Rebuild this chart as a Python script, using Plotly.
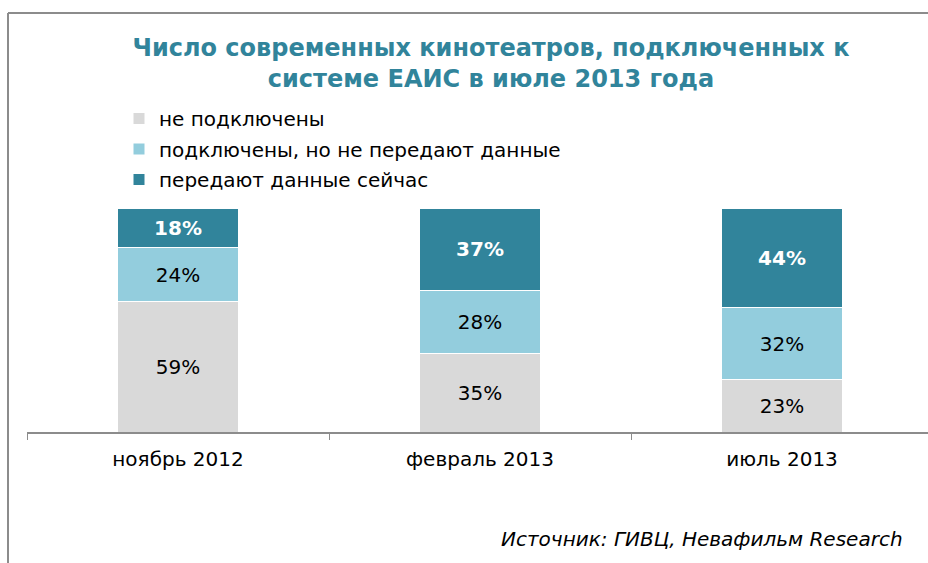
import plotly.graph_objects as go

categories = ["ноябрь 2012", "февраль 2013", "июль 2013"]
not_connected = [59, 35, 23]
connected_no_data = [24, 28, 32]
transmitting = [18, 37, 44]
series_names = ["не подключены", "подключены, но не передают данные", "передают данные сейчас"]
colors = ["#D9D9D9", "#93CDDD", "#31849B"]
title_text = "Число современных кинотеатров, подключенных к<br>системе ЕАИС в июле 2013 года"
source_text = "Источник: ГИВЦ, Невафильм Research"

W, H = 928, 563
L, R, T, B = 27, 928, 208, 432
pw, ph = R - L, B - T

def px_x(px):
    return (px - L) / pw

def px_y(py):
    return (B - py) / ph

fig = go.Figure()
series = [not_connected, connected_no_data, transmitting]
for i, (name, vals, col) in enumerate(zip(series_names, series, colors)):
    top = i == 2
    fig.add_trace(go.Bar(
        x=categories, y=vals, name=name,
        marker=dict(color=col, line=dict(color="white", width=1)),
        text=[f"{v}%" for v in vals],
        texttemplate="<b>%{text}</b>" if top else "%{text}",
        textposition="inside", insidetextanchor="middle", textangle=0,
        constraintext="none",
        textfont=dict(family="DejaVu Sans", size=20, color="white" if top else "black"),
        legendgroup=name, hoverinfo="skip",
    ))

fig.update_layout(
    width=W, height=H,
    margin=dict(l=L, r=W - R, t=T, b=H - B, pad=0),
    barmode="stack", barnorm="percent", bargap=0.6,
    paper_bgcolor="white", plot_bgcolor="white",
    font=dict(family="DejaVu Sans", color="black"),
    title=dict(text=title_text, x=491 / W, xref="container", xanchor="center",
               y=1 - 56 / H, yref="container", yanchor="middle",
               font=dict(family="DejaVu Sans", size=24, color="#31849B", weight="bold")),
    legend=dict(x=px_x(119), y=px_y(99), xanchor="left", yanchor="top",
                traceorder="grouped", tracegroupgap=1.5,
                font=dict(family="DejaVu Sans", size=20, color="black"),
                bgcolor="rgba(0,0,0,0)"),
    showlegend=True,
)
fig.update_xaxes(range=[-0.5, -0.5 + pw / 302.0], showline=True, linecolor="#8C8C8C", linewidth=1.5,
                 ticks="outside", tickson="boundaries", ticklen=6, tickcolor="#8C8C8C", tickwidth=1,
                 tickfont=dict(family="DejaVu Sans", size=20, color="black"),
                 ticklabelstandoff=8, showgrid=False, zeroline=False)
fig.update_yaxes(range=[0, 100], visible=False, showgrid=False)

fig.add_annotation(text=source_text, xref="paper", yref="paper", x=px_x(905), y=px_y(539),
                   xanchor="right", yanchor="middle", showarrow=False,
                   font=dict(family="DejaVu Sans", size=20, color="black", style="italic"))

# outer frame (top and left borders)
fig.add_shape(type="line", xref="paper", yref="paper", x0=px_x(8), x1=px_x(940), y0=px_y(13), y1=px_y(13),
              line=dict(color="#8C8C8C", width=2))
fig.add_shape(type="line", xref="paper", yref="paper", x0=px_x(8), x1=px_x(8), y0=px_y(13), y1=px_y(580),
              line=dict(color="#8C8C8C", width=2))

fig.write_html("out.html", config={"displayModeBar": False},
               post_script="document.body.style.margin='0';document.documentElement.style.overflow='hidden';document.body.style.overflow='hidden';")
